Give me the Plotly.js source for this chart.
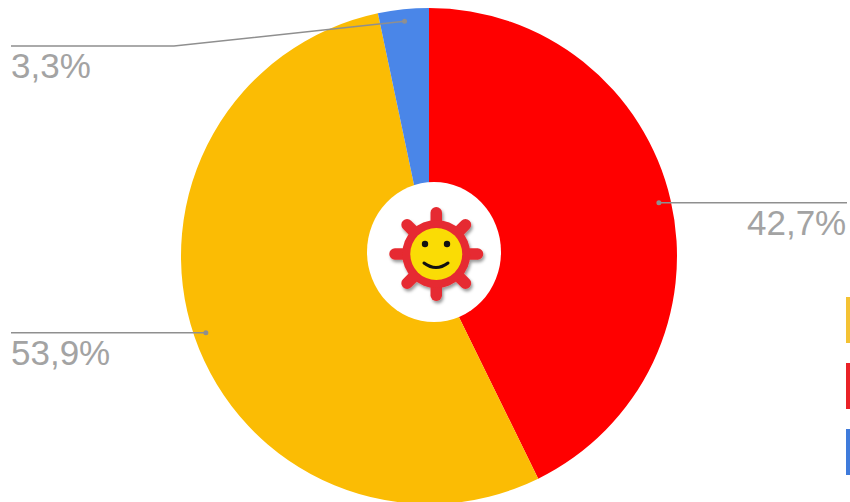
<!DOCTYPE html>
<html><head><meta charset="utf-8">
<script src="https://cdn.plot.ly/plotly-3.0.1.min.js"></script>
<style>html,body{margin:0;padding:0;background:#fff;overflow:hidden;height:502px}</style></head>
<body><div id="chart" style="width:850px;height:504px"></div>
<script>
const sliceNames = ["Czerwony", "Żółty", "Niebieski"];
const sliceValues = [42.7, 53.9, 3.3];
const sliceLabels = ["42,7%", "53,9%", "3,3%"];
const sliceColors = ["#FF0000", "#FBBC04", "#4A86E8"];
const legendColors = ["#F4C233", "#EA2227", "#3F7BDB"];
const W = 850, H = 504, CX = 429, CY = 256, R = 248, DOT_R = 236;
const px = x => x / W, py = y => 1 - y / H;
const total = sliceValues.reduce((a, b) => a + b, 0);

let cum = 0;
const anchors = sliceValues.map(v => {
  const a = (cum + v / 2) / total * 2 * Math.PI; cum += v;
  return [CX + DOT_R * Math.sin(a), CY - DOT_R * Math.cos(a)];
});
const lineColor = "#8F8F8F", textColor = "#A3A3A3";
const leaders = [
  [anchors[0], [847, anchors[0][1]]],
  [anchors[1], [11, anchors[1][1]]],
  [anchors[2], [174, 46], [11, 46]]
];
const labelPlaces = [[847, 222, "right"], [10, 352, "left"], [10, 65, "left"]];

const shapes = [];
leaders.forEach(pts => {
  shapes.push({type:"path", xref:"paper", yref:"paper", layer:"above",
    path:"M " + pts.map(p => px(p[0]) + "," + py(p[1])).join(" L "),
    line:{color:lineColor, width:1.5}});
});
anchors.forEach(a => shapes.push({type:"circle", xref:"paper", yref:"paper", layer:"above",
  x0:px(a[0]-2.5), x1:px(a[0]+2.5), y0:py(a[1]+2.5), y1:py(a[1]-2.5),
  fillcolor:lineColor, line:{width:0}}));
// legend keys, cut by the right edge
legendColors.forEach((c, i) => shapes.push({type:"rect", xref:"paper", yref:"paper", layer:"above",
  x0:px(846), x1:px(850), y0:py(297 + 66*i + 46), y1:py(297 + 66*i), fillcolor:c, line:{width:0}}));

// white badge and sun logo: 134x140 image, sun centred at (69,72)
const rays = [0,45,90,135,180,225,270,315].map(d =>
  `<rect x="63.5" y="25" width="11.5" height="26" rx="5.7" transform="rotate(${d} 69.25 72)"/>`).join("");
const sun = `<svg xmlns="http://www.w3.org/2000/svg" width="134" height="140" viewBox="0 0 134 140">
<defs><filter id="s" x="-20%" y="-20%" width="140%" height="140%"><feDropShadow dx="1.5" dy="2.5" stdDeviation="1.8" flood-color="#000" flood-opacity=".4"/></filter></defs>
<ellipse cx="67" cy="70" rx="67" ry="70" fill="#fff"/>
<g filter="url(#s)" fill="#E62B30">${rays}<circle cx="69.25" cy="72" r="34"/></g>
<circle cx="69.25" cy="72" r="26" fill="#FADC05"/>
<circle cx="58" cy="62" r="3.2" fill="#111"/><circle cx="80" cy="62" r="3.2" fill="#111"/>
<path d="M57 81 Q69 90 81 81" fill="none" stroke="#111" stroke-width="3" stroke-linecap="round"/>
</svg>`;

Plotly.newPlot("chart", [{
  type:"pie", labels:sliceNames, values:sliceValues, sort:false, direction:"clockwise", rotation:0,
  marker:{colors:sliceColors, line:{width:0}}, textinfo:"none", hoverinfo:"skip",
  domain:{x:[px(CX-R), px(CX+R)], y:[py(CY+R), py(CY-R)]}
}], {
  width:W, height:H, margin:{l:0,r:0,t:0,b:0}, showlegend:false,
  paper_bgcolor:"#fff", shapes:shapes,
  annotations:sliceLabels.map((t, i) => ({text:t, showarrow:false, xref:"paper", yref:"paper",
    x:px(labelPlaces[i][0]), y:py(labelPlaces[i][1]), xanchor:labelPlaces[i][2], yanchor:"middle",
    borderpad:0, font:{family:"Liberation Sans, Arial, sans-serif", size:35, color:textColor}})),
  images:[{source:"data:image/svg+xml;charset=utf-8," + encodeURIComponent(sun), xref:"paper", yref:"paper",
    x:px(367), y:py(182), sizex:134/W, sizey:140/H, xanchor:"left", yanchor:"top", sizing:"stretch", layer:"above"}]
}, {displayModeBar:false, staticPlot:true});
</script></body></html>
